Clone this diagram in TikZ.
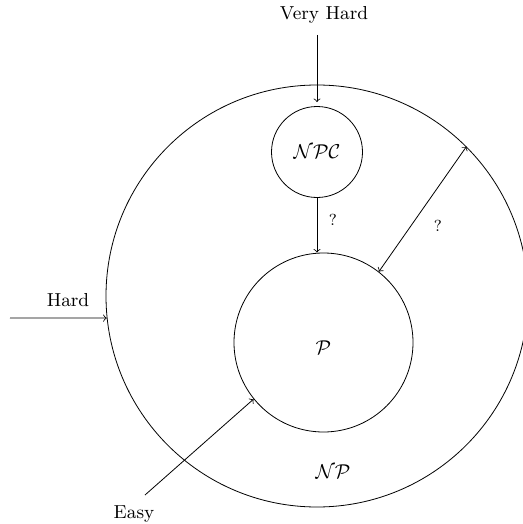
\documentclass[tikz,border=0pt]{standalone}
\begin{document}
\begin{tikzpicture}[x=0.5pt,y=-0.5pt,
  setcircle/.style={draw,circle,inner sep=0pt,line width=0.4pt},
  lbl/.style={inner sep=0pt,font=\fontsize{9.4}{11}\selectfont},
  qlbl/.style={inner sep=0pt,font=\fontsize{8}{9}\selectfont},
  arr/.style={->,line width=0.4pt},
  darr/.style={<->,line width=0.4pt}]
\useasboundingbox (0,0) rectangle (523,524);
\node[setcircle,minimum size=211pt] (np) at (317,296) {};
\node[setcircle,minimum size=45.5pt] (npc) at (317,152) {$\mathcal{NPC}$};
\node[setcircle,minimum size=89.5pt] (p) at (323.5,342.5) {};
\node[inner sep=0pt] (plbl) at (323.5,348) {$\mathcal{P}$};
\node[inner sep=0pt] (nplbl) at (333,472) {$\mathcal{NP}$};
\node[lbl] (vh) at (324,15) {Very Hard};
\node[lbl] (hard) at (68,300) {Hard};
\node[lbl] (easy) at (134,514) {Easy};
\node[qlbl] (q1) at (333,220) {?};
\node[qlbl] (q2) at (438,226) {?};
\coordinate (vhs) at (317,35);
\coordinate (hs) at (10,318);
\coordinate (es) at (145,495);
\draw[arr,shorten >=2pt] (vhs) -- (npc.north);
\draw[arr] (npc.south) -- (npc.south |- p.north);
\draw[darr] (np.45) -- (p.52);
\draw[arr] (hs) -- (np.186);
\draw[arr] (es) -- (p.219);
\end{tikzpicture}
\end{document}
